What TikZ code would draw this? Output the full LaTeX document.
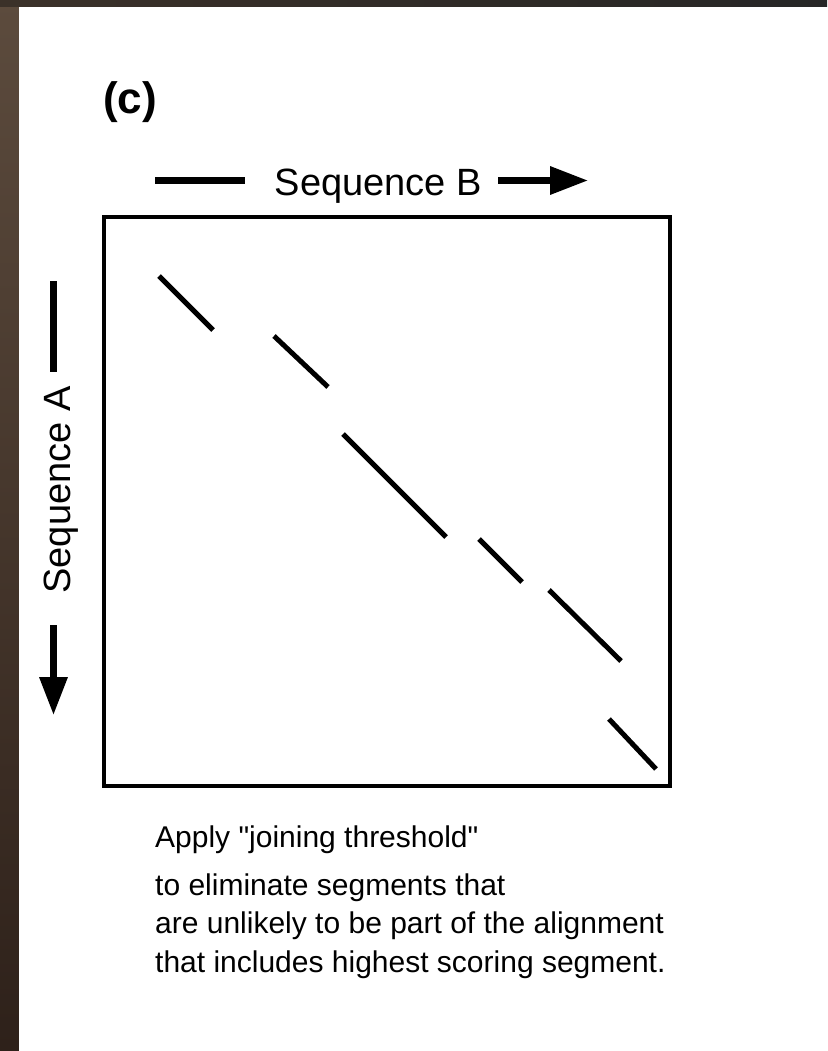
\documentclass[tikz,border=0pt]{standalone}
\usepackage{fontspec}
\setmainfont{Liberation Sans}
\usetikzlibrary{arrows.meta,positioning}
\definecolor{edgelight}{HTML}{5C4B3D}
\definecolor{edgedark}{HTML}{2E211A}
\definecolor{edgetop}{HTML}{3B3129}

\begin{document}
\begin{tikzpicture}[x=1pt, y=-1pt,
  seqlbl/.style={font=\fontsize{38}{40}\selectfont, inner sep=0pt},
  note/.style={font=\fontsize{30}{38.5}\selectfont, inner sep=0pt, align=left},
  seqline/.style={line width=6.5pt},
  seqarr/.style={line width=6.5pt, -{Triangle[length=38pt, width=27pt]}},
  hit/.style={line width=5pt}
]
  \useasboundingbox (0,0) rectangle (827,1051);
  % photo edge round the page
  \shade[top color=edgelight, bottom color=edgedark] (0,0) rectangle (19,1051);
  \shade[left color=edgetop, right color=black!85] (0,0) rectangle (827,7);
  \fill[white] (19,7) rectangle (827,1051);

  % panel letter
  \node[font=\fontsize{44}{46}\selectfont\bfseries, inner sep=0pt, anchor=base west] (panel) at (103,114) {(c)};

  % dot plot frame
  \node[draw, line width=4pt, inner sep=0pt, minimum width=566pt, minimum height=569pt] (dotplot) at (387,501.5) {};

  % Sequence B
  \node[seqlbl, anchor=base] (seqB) at (378.5,195) {Sequence B};
  \coordinate (bL) at (155,180.5);
  \coordinate (bLe) at (245,180.5);
  \coordinate (bRs) at (498,180.5);
  \coordinate (bR) at (588,180.5);
  \draw[seqline] (bL) -- (bLe);
  \draw[seqarr] (bRs) -- (bR);

  % Sequence A
  \node[seqlbl, rotate=90, anchor=base] (seqA) at (70,490) {Sequence A};
  \coordinate (aT) at (53.5,281);
  \coordinate (aTe) at (53.5,372);
  \coordinate (aBs) at (53.5,625);
  \coordinate (aB) at (53.5,715);
  \draw[seqline] (aT) -- (aTe);
  \draw[seqarr] (aBs) -- (aB);

  % segments kept after the threshold
  \foreach \sx/\sy/\ex/\ey in {159/276/213/330, 274/336/328/387, 343/434/446/537,
                               479/539/522/582, 549/590/621/661, 609/719/656/769}
    \draw[hit] (\sx,\sy) -- (\ex,\ey);

  % caption
  \node[note, anchor=base west] (cap1) at (155,847) {Apply \textquotedbl joining threshold\textquotedbl};
  \node[note, anchor=base west] (cap2) at (155,972) {to eliminate segments that\\
    are unlikely to be part of the alignment\\
    that includes highest scoring segment.};
\end{tikzpicture}
\end{document}
